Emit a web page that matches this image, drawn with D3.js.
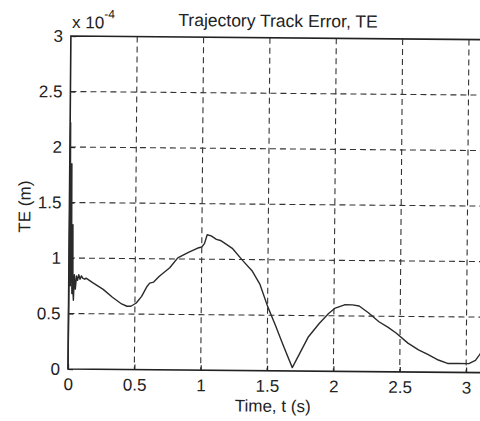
<!DOCTYPE html>
<html>
<head>
<meta charset="utf-8">
<script src="https://cdn.jsdelivr.net/npm/d3@7"></script>
<style>
  html, body { margin: 0; background: #fff; overflow: hidden; }
  svg { display: block; }
  svg text { font-family: "Liberation Sans", Arial, sans-serif; fill: #222; }
</style>
</head>
<body>
<div id="viz-wrapper"></div>
<script>
let width = 480,
    height = 421;

// plot box (the right edge runs off the page)
let margin = {left: 68, top: 36};
let plotW = 418,
    plotH = 333;

// tracking error, in units of 1e-4 m
let timeS = [0, 0.004, 0.008, 0.012, 0.016, 0.02, 0.024, 0.028, 0.032, 0.036,
  0.042, 0.05, 0.058, 0.066, 0.075, 0.085, 0.095, 0.105, 0.12, 0.13,
  0.18, 0.26, 0.33, 0.40, 0.44, 0.47, 0.51, 0.55, 0.59, 0.61,
  0.64, 0.68, 0.76, 0.82, 0.90, 0.97, 1.0, 1.02, 1.04, 1.07,
  1.11, 1.14, 1.18, 1.23, 1.31, 1.38, 1.44, 1.50, 1.56, 1.62,
  1.69, 1.75, 1.81, 1.89, 1.96, 2.01, 2.08, 2.14, 2.19, 2.26,
  2.34, 2.41, 2.47, 2.56, 2.64, 2.71, 2.79, 2.86, 2.94, 3.02,
  3.07, 3.10, 3.13];
let teErr = [0, 2.22, 1.2, 0.75, 1.85, 1.0, 0.68, 1.3, 0.7, 0.62,
  0.85, 0.72, 0.84, 0.80, 0.85, 0.81, 0.84, 0.82, 0.81, 0.82,
  0.78, 0.72, 0.65, 0.59, 0.57, 0.57, 0.60, 0.66, 0.75, 0.78,
  0.79, 0.84, 0.92, 1.01, 1.06, 1.10, 1.11, 1.14, 1.22, 1.21,
  1.18, 1.17, 1.14, 1.10, 0.99, 0.90, 0.78, 0.58, 0.41, 0.23,
  0.03, 0.17, 0.31, 0.43, 0.52, 0.57, 0.60, 0.60, 0.59, 0.53,
  0.45, 0.40, 0.35, 0.26, 0.20, 0.16, 0.11, 0.08, 0.08, 0.08,
  0.11, 0.16, 0.22];

let xTicks = [0, 0.5, 1, 1.5, 2, 2.5, 3];
let yTicks = [0, 0.5, 1, 1.5, 2, 2.5, 3];

let data = timeS.map(function(t, i) { return {t: t, v: teErr[i]}; });

let xScale = d3.scaleLinear().domain([0, 3.15]).range([0, plotW]);
let yScale = d3.scaleLinear().domain([0, 3]).range([plotH, 0]);

let svg = d3.select("#viz-wrapper")
  .append("svg")
  .attr("width", width)
  .attr("height", height);

// whole page sits slightly skewed, as on a scanned sheet
let page = svg.append("g")
  .attr("transform", "rotate(0.5," + margin.left + "," + (margin.top + plotH) + ")");

let viz = page.append("g")
  .attr("transform", "translate(" + margin.left + "," + margin.top + ")");

// dashed grid
viz.append("g").selectAll("line.vgrid")
  .data(xTicks.slice(1))
  .enter().append("line")
  .attr("x1", d => xScale(d)).attr("x2", d => xScale(d))
  .attr("y1", 0).attr("y2", plotH)
  .style("stroke", "#333").style("stroke-width", 1.1)
  .style("stroke-dasharray", "6,4");

viz.append("g").selectAll("line.hgrid")
  .data(yTicks.slice(1, -1))
  .enter().append("line")
  .attr("x1", 0).attr("x2", plotW + 20)
  .attr("y1", d => yScale(d)).attr("y2", d => yScale(d))
  .style("stroke", "#333").style("stroke-width", 1.1)
  .style("stroke-dasharray", "6,4");

// axes with inward ticks
let fmt = d => String(d);
let xAxis = d3.axisBottom(xScale).tickValues(xTicks).tickFormat(fmt)
  .tickSizeInner(-5).tickSizeOuter(0).tickPadding(9);
let yAxis = d3.axisLeft(yScale).tickValues(yTicks).tickFormat(fmt)
  .tickSizeInner(-5).tickSizeOuter(0).tickPadding(8);

let gx = viz.append("g")
  .attr("transform", "translate(0," + plotH + ")")
  .call(xAxis);
let gy = viz.append("g").call(yAxis);

[gx, gy].forEach(function(g) {
  g.select(".domain").remove();
  g.selectAll(".tick line").style("stroke", "#222").style("stroke-width", 1.2);
  g.selectAll(".tick text").style("font-size", "17px").style("fill", "#222");
});

// box edges
viz.append("path")
  .attr("d", "M" + (plotW + 20) + ",0H0V" + plotH + "H" + (plotW + 20))
  .style("fill", "none").style("stroke", "#222").style("stroke-width", 1.6);

// the error trace
let line = d3.line()
  .x(d => xScale(d.t))
  .y(d => yScale(d.v));

viz.append("path")
  .datum(data)
  .attr("d", line)
  .style("fill", "none")
  .style("stroke", "#2a2a2a")
  .style("stroke-width", 1.4)
  .style("stroke-linejoin", "round");

// exponent marker
let expo = page.append("text")
  .attr("x", 69).attr("y", 28)
  .style("font-size", "17px");
expo.append("tspan").text("x 10");
expo.append("tspan").attr("dy", -10).style("font-size", "12px").text("-4");

// title
page.append("text")
  .attr("x", margin.left + plotW / 2 - 2).attr("y", 25)
  .attr("text-anchor", "middle")
  .style("font-size", "17.5px")
  .text("Trajectory Track Error, TE");

// axis labels
page.append("text")
  .attr("x", 273).attr("y", 410)
  .attr("text-anchor", "middle")
  .style("font-size", "17px")
  .text("Time, t (s)");

page.append("text")
  .attr("transform", "translate(29,207) rotate(-90)")
  .attr("text-anchor", "middle")
  .style("font-size", "17px")
  .text("TE (m)");
</script>
</body>
</html>
